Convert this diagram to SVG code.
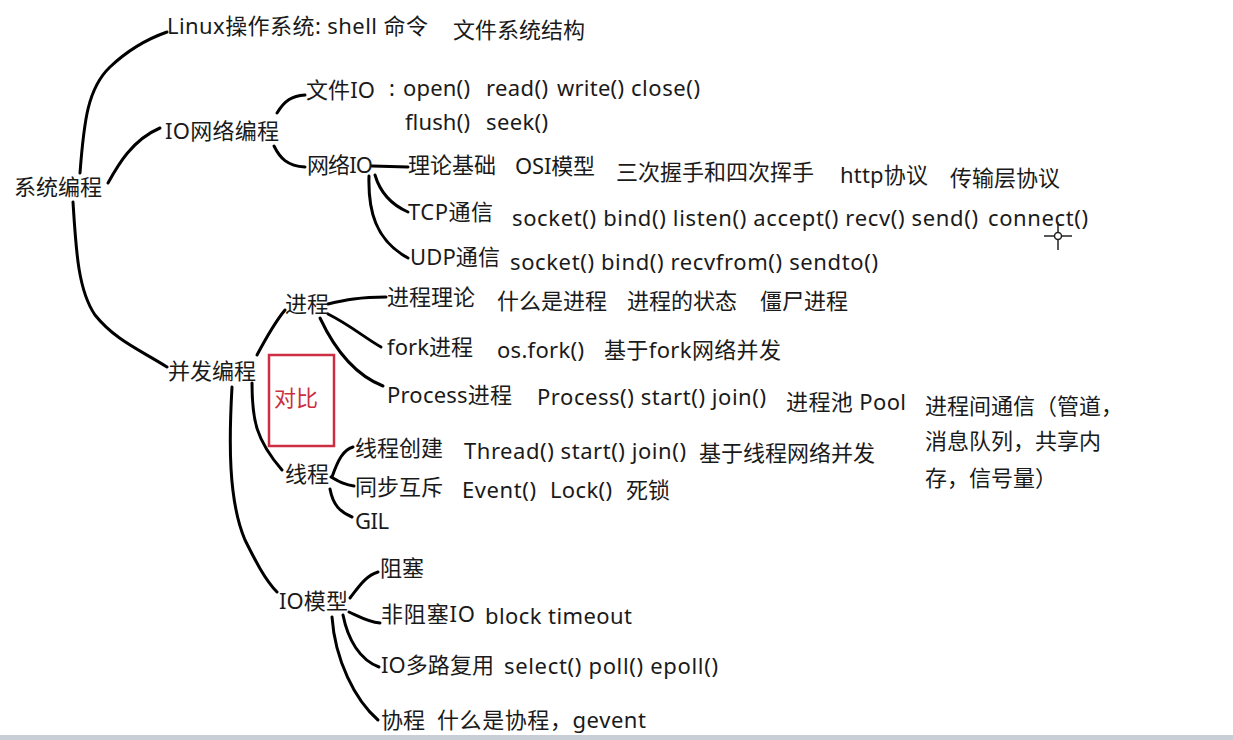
<svg xmlns="http://www.w3.org/2000/svg" width="1233" height="740" viewBox="0 0 1233 740">
<style>
text{font-family:"Noto Sans","Noto Sans CJK SC",sans-serif;font-size:22px;fill:#1a1a1a}
.c path{fill:none;stroke:#000;stroke-width:3;stroke-linecap:round}
.red{fill:#cc2f42}
</style>
<rect width="1233" height="740" fill="#fff"/>
<rect x="0" y="735" width="1233" height="5" fill="#c9cdd6"/>
<g class="c" id="connectors">
<path d="M80,173 C84,120 88,88 110,67 C130,48 150,38 167,32"/>
<path d="M108,183 C118,165 132,140 160,128"/>
<path d="M73,202 C76,250 78,290 95,315 C115,340 140,350 167,367"/>
<path d="M277,113 C285,100 292,96 305,95"/>
<path d="M274,146 C280,158 287,166 305,167"/>
<path d="M372,166 L408,167"/>
<path d="M375,175 C380,192 392,205 408,212"/>
<path d="M369,176 C368,210 375,240 408,258"/>
<path d="M257,355 C265,340 275,322 285,310"/>
<path d="M328,304 C345,300 360,297 386,297"/>
<path d="M328,314 C350,325 365,338 381,347"/>
<path d="M320,318 C335,350 355,375 383,386"/>
<path d="M252,383 C252,420 256,440 282,470"/>
<path d="M332,477 C338,460 343,450 353,447"/>
<path d="M331,477 C340,482 345,485 354,486"/>
<path d="M330,489 C333,505 340,512 352,517"/>
<path d="M232,387 C229,440 228,500 245,540 C255,560 265,580 277,592"/>
<path d="M350,598 C358,588 365,576 378,572"/>
<path d="M349,612 C360,617 368,622 380,623"/>
<path d="M343,615 C348,640 360,660 379,667"/>
<path d="M332,617 C335,660 355,700 378,720"/>
</g>
<g id="root"><text x="14" y="195">系统编程</text></g>
<g id="linux"><text x="167" y="34" textLength="261">Linux操作系统: shell 命令</text><text x="453" y="38">文件系统结构</text></g>
<g id="ionet"><text x="165" y="139" textLength="114">IO网络编程</text></g>
<g id="fileio"><text x="306" y="98" textLength="69">文件IO</text><text x="389" y="96">:</text><text x="403" y="96" textLength="67">open()</text><text x="486" y="96" textLength="62">read()</text><text x="557" y="96" textLength="67">write()</text><text x="631" y="96" textLength="69">close()</text><text x="405" y="130" textLength="65">flush()</text><text x="486" y="130" textLength="62">seek()</text></g>
<g id="netio"><text x="307" y="173" textLength="66">网络IO</text></g>
<g id="theory"><text x="408" y="173">理论基础</text><text x="515" y="174" textLength="80">OSI模型</text><text x="616" y="180">三次握手和四次挥手</text><text x="840" y="183" textLength="88">http协议</text><text x="950" y="186">传输层协议</text></g>
<g id="tcp"><text x="408" y="220" textLength="85">TCP通信</text><text x="512" y="226" textLength="466">socket() bind() listen() accept() recv() send()</text><text x="988" y="226" textLength="100">connect()</text></g>
<g id="udp"><text x="410" y="265" textLength="90">UDP通信</text><text x="510" y="270" textLength="368">socket() bind() recvfrom() sendto()</text></g>
<g id="concurrent"><text x="168" y="379">并发编程</text></g>
<g id="process"><text x="285" y="312">进程</text></g>
<g id="proctheory"><text x="387" y="305">进程理论</text><text x="497" y="309">什么是进程</text><text x="627" y="309">进程的状态</text><text x="760" y="309">僵尸进程</text></g>
<g id="fork"><text x="387" y="355" textLength="86">fork进程</text><text x="497" y="358" textLength="87">os.fork()</text><text x="604" y="358" textLength="177">基于fork网络并发</text></g>
<g id="procclass"><text x="387" y="403" textLength="125">Process进程</text><text x="537" y="405" textLength="229">Process() start() join()</text><text x="786" y="410" textLength="120">进程池 Pool</text><text x="925" y="414" textLength="198">进程间通信（管道，</text><text x="925" y="449">消息队列，共享内</text><text x="925" y="486">存，信号量）</text></g>
<g id="compare"><rect x="269" y="355" width="65" height="91" fill="none" stroke="#cc2f42" stroke-width="2.5"/><text class="red" x="274" y="406">对比</text></g>
<g id="thread"><text x="285" y="482">线程</text></g>
<g id="threadcreate"><text x="355" y="456">线程创建</text><text x="464" y="459" textLength="222">Thread() start() join()</text><text x="699" y="461">基于线程网络并发</text></g>
<g id="sync"><text x="355" y="495">同步互斥</text><text x="462" y="498" textLength="74">Event()</text><text x="550" y="498" textLength="62">Lock()</text><text x="626" y="498">死锁</text></g>
<g id="gil"><text x="355" y="529" textLength="34">GIL</text></g>
<g id="iomodel"><text x="279" y="609" textLength="69">IO模型</text></g>
<g id="block"><text x="380" y="576">阻塞</text></g>
<g id="nonblock"><text x="381" y="622" textLength="94">非阻塞IO</text><text x="485" y="624" textLength="147">block timeout</text></g>
<g id="multiplex"><text x="381" y="673" textLength="113">IO多路复用</text><text x="504" y="674" textLength="214">select() poll() epoll()</text></g>
<g id="coroutine"><text x="381" y="728">协程</text><text x="437" y="728" textLength="209">什么是协程，gevent</text></g>
<g id="cursor" stroke="#222" stroke-width="1.5" fill="none"><line x1="1044" y1="236" x2="1054" y2="236"/><line x1="1062" y1="236" x2="1072" y2="236"/><line x1="1058" y1="222" x2="1058" y2="232"/><line x1="1058" y1="240" x2="1058" y2="250"/><circle cx="1058" cy="236" r="3.5"/></g>
</svg>
